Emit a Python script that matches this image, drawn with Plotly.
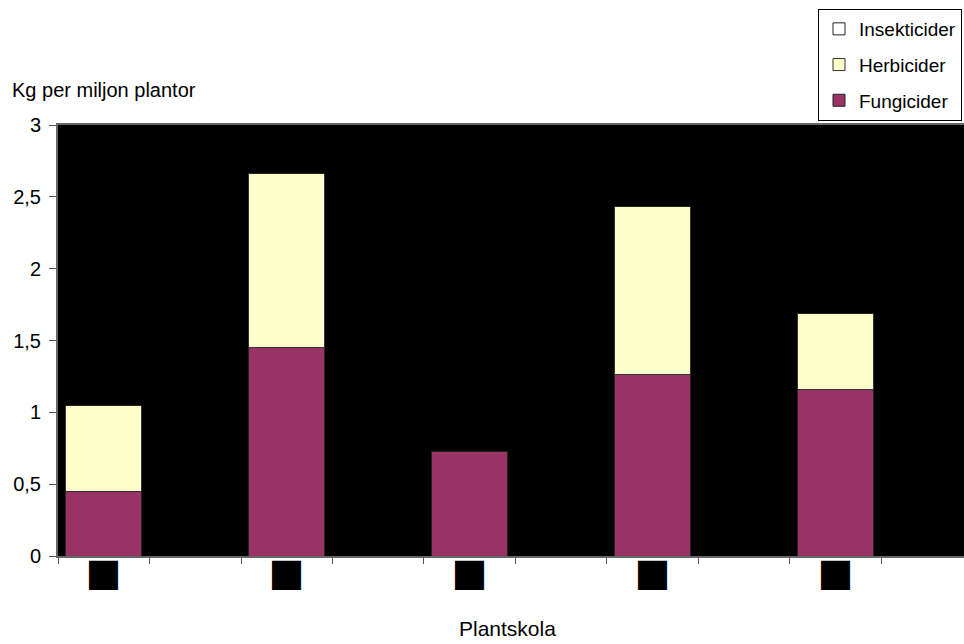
import plotly.graph_objects as go

# Data (10 category slots, bars in every other slot)
categories = ["A", "a", "B", "b", "C", "c", "D", "d", "E", "e"]
tick_labels = ["■", "", "■", "", "■", "", "■", "", "■", ""]
fungicider = [0.45, None, 1.45, None, 0.73, None, 1.265, None, 1.16, None]
herbicider = [0.595, None, 1.21, None, 0.0, None, 1.17, None, 0.53, None]
insekticider = [0.0, None, 0.0, None, 0.0, None, 0.0, None, 0.0, None]

W, H = 964, 644
L, R, T, B = 58, 0, 125, 88
pw, ph = W - L - R, H - T - B

def px_x(x):
    return (x - L) / pw

def px_y(y):
    return (H - B - y) / ph

FONT = "Liberation Sans, Arial, sans-serif"

fig = go.Figure()
fig.add_trace(go.Bar(x=categories, y=fungicider, name="Fungicider", legendgroup="f", legendrank=3,
                     marker=dict(color="#993366", line=dict(color="#222222", width=1))))
fig.add_trace(go.Bar(x=categories, y=herbicider, name="Herbicider", legendgroup="h", legendrank=2,
                     marker=dict(color="#FFFFCC", line=dict(color="#333333", width=1))))
fig.add_trace(go.Bar(x=categories, y=insekticider, name="Insekticider", legendgroup="i", legendrank=1,
                     marker=dict(color="#FFFFFF", line=dict(color="#222222", width=1))))

fig.update_layout(
    width=W, height=H,
    margin=dict(l=L, r=R, t=T, b=B, autoexpand=False),
    barmode="stack", bargap=0.17,
    paper_bgcolor="white", plot_bgcolor="black",
    separators=", ",
    font=dict(family=FONT, size=20, color="black"),
    showlegend=True,
    legend=dict(x=px_x(818), y=px_y(9), xanchor="left", yanchor="top",
                traceorder="grouped", tracegroupgap=8,
                bgcolor="white", bordercolor="black", borderwidth=1,
                font=dict(family=FONT, size=19, color="black")),
    xaxis=dict(type="category", categoryorder="array", categoryarray=categories,
               tickmode="array", tickvals=categories, ticktext=tick_labels,
               tickson="boundaries", ticks="outside", ticklen=6, tickcolor="#555555",
               range=[-0.5, 9.5 - 9 / 91.7], ticklabelstandoff=-19,
               showline=True, linecolor="#666666", linewidth=2, mirror=True,
               showgrid=False, zeroline=False,
               tickfont=dict(family="DejaVu Sans", size=38, color="black")),
    yaxis=dict(range=[0, 3], dtick=0.5, tick0=0, ticks="outside", ticklen=7,
               tickcolor="#555555", showline=True, linecolor="#666666", linewidth=2,
               mirror=True, showgrid=False, zeroline=False, ticklabelstandoff=4,
               tickfont=dict(family=FONT, size=20, color="black")),
    annotations=[
        dict(text="Kg per miljon plantor", xref="paper", yref="paper",
             x=px_x(10), y=px_y(90), xanchor="left", yanchor="middle",
             showarrow=False, font=dict(family=FONT, size=20, color="black")),
        dict(text="Plantskola", xref="paper", yref="paper",
             x=px_x(507), y=px_y(628), xanchor="center", yanchor="middle",
             showarrow=False, font=dict(family=FONT, size=21, color="black")),
    ],
)

fig.write_html("out.html")
